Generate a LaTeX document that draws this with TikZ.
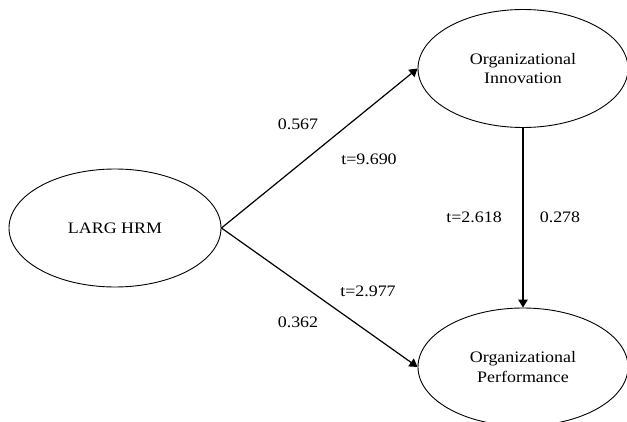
\documentclass[tikz,border=0pt]{standalone}
\usepackage{fontspec}
\setmainfont{Liberation Serif}[FakeStretch=1.12]
\usetikzlibrary{
    arrows.meta,
    shapes.geometric
}

\begin{document}
\begin{tikzpicture}[
    x=1pt, y=-1pt,
    font=\fontsize{16}{19.5}\selectfont,
    construct/.style={
        draw, ellipse, line width=0.9pt, inner sep=0pt,
        minimum width=210pt, minimum height=118pt,
        align=center
    },
    arr/.style={-{Triangle[length=8pt, width=9.5pt]}, line width=1.2pt},
    coef/.style={inner sep=0pt},
]

\useasboundingbox (0, 0) rectangle (627, 422);

% ── Constructs ──
\node[construct, minimum width=212pt] (larg) at (115, 228) {LARG HRM};
\node[construct] (innov) at (523, 68.5) {Organizational\\Innovation};
\node[construct] (perf) at (523, 367) {Organizational\\Performance};

% ── Paths ──
\draw[arr] (larg.east) -- (innov.west);
\draw[arr] (larg.east) -- (perf.west);
\draw[arr] (innov.south) -- (perf.north);

% ── Path coefficients and t-values ──
\node[coef] (c1) at (298, 124) {0.567};
\node[coef] (t1) at (369, 159) {t=9.690};
\node[coef] (t2) at (368, 291) {t=2.977};
\node[coef] (c2) at (298, 322) {0.362};
\node[coef] (t3) at (474, 217) {t=2.618};
\node[coef] (c3) at (560, 217) {0.278};

\end{tikzpicture}
\end{document}
